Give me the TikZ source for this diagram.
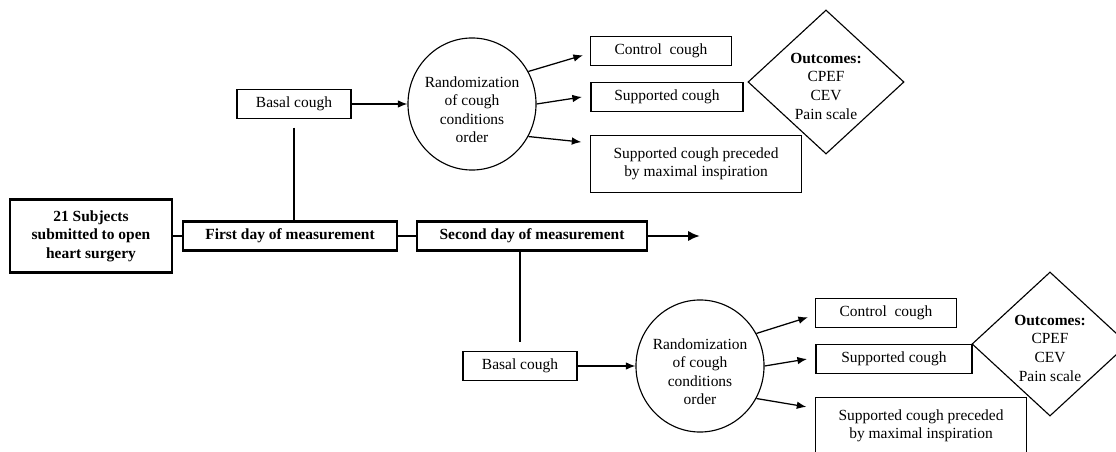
\documentclass[tikz,border=0pt]{standalone}
\usepackage{fontspec}
\setmainfont{Liberation Serif}
\usepackage{tikz}
\usetikzlibrary{arrows.meta,positioning,calc,shapes.geometric}

\begin{document}
\begin{tikzpicture}[x=0.025cm,y=-0.025cm,
    font=\fontsize{11}{13.2}\selectfont,
    block/.style={rectangle,draw,line width=0.8pt,minimum height=0.73cm,inner sep=2pt,align=center},
    dayblock/.style={rectangle,draw,line width=2pt,minimum height=0.72cm,inner sep=2pt,align=center,font=\fontsize{11}{13.2}\selectfont\bfseries},
    randnode/.style={ellipse,draw,line width=0.8pt,minimum width=3.2cm,minimum height=3.3cm,inner sep=0pt},
    outbox/.style={diamond,draw,line width=0.8pt,minimum width=3.9cm,minimum height=3.6cm,inner sep=0pt},
    arrow/.style={-{Latex[length=2.4mm,width=1.9mm]},line width=0.9pt},
    mainarrow/.style={-{Latex[length=3mm,width=2.6mm]},line width=2pt},
    link/.style={line width=2pt}
]
\useasboundingbox (0,0) rectangle (1116,452);
\clip (0,0) rectangle (1116,452);

% time line
\node[dayblock,minimum width=4.05cm,minimum height=1.82cm] (subj) at (91,236) {21 Subjects\\submitted to open\\heart surgery};
\node[dayblock,minimum width=5.35cm] (day1) at (290,236) {First day of measurement};
\node[dayblock,minimum width=5.75cm] (day2) at (532,236) {Second day of measurement};
\coordinate (tend) at (700,236);
\draw[link] (subj) -- (day1);
\draw[link] (day1) -- (day2);
\draw[mainarrow] (day2) -- (tend);

% first day
\node[block,minimum width=2.85cm] (basal1) at (294,104) {Basal cough};
\node[randnode,label={[align=center,yshift=-4pt]center:{Randomization\\of cough\\conditions\\order}}] (rand1) at (472,104) {};
\node[block,minimum width=3.52cm] (ctrl1) at (661,51) {Control\ \ cough};
\node[block,minimum width=3.8cm] (sup1) at (667,97) {Supported cough};
\node[block,minimum width=5.28cm,minimum height=1.42cm] (pre1) at (696,164) {Supported cough preceded\\by maximal inspiration};
\node[outbox,label={[align=center,yshift=-3pt]center:{\textbf{Outcomes:}\\CPEF\\CEV\\Pain scale}}] (out1) at (826,82) {};

\draw[line width=0.8pt,shorten <=6pt] (basal1.south) -- (basal1.south |- day1.north);
\draw[arrow] (basal1) -- (rand1);
\draw[arrow] (rand1.30) -- ([xshift=-5pt,yshift=-3pt]ctrl1.west);
\draw[arrow] (rand1.east) -- ([xshift=-6pt]sup1.west);
\draw[arrow] (rand1.-30) -- ([xshift=-6pt,yshift=-5pt]pre1.north west);

% second day
\node[block,minimum width=2.85cm] (basal2) at (520,366) {Basal cough};
\node[randnode,label={[align=center,yshift=-4pt]center:{Randomization\\of cough\\conditions\\order}}] (rand2) at (700,366) {};
\node[block,minimum width=3.52cm] (ctrl2) at (886,313) {Control\ \ cough};
\node[block,minimum width=3.9cm] (sup2) at (894,359) {Supported cough};
\node[block,minimum width=5.28cm,minimum height=1.42cm] (pre2) at (921,426) {Supported cough preceded\\by maximal inspiration};
\node[outbox,label={[align=center,yshift=-3pt]center:{\textbf{Outcomes:}\\CPEF\\CEV\\Pain scale}}] (out2) at (1050,344) {};

\draw[line width=0.8pt,shorten >=6pt] (basal2.north |- day2.south) -- (basal2.north);
\draw[arrow] (basal2) -- (rand2);
\draw[arrow] (rand2.30) -- ([xshift=-5pt,yshift=-3pt]ctrl2.west);
\draw[arrow] (rand2.east) -- ([xshift=-6pt]sup2.west);
\draw[arrow] (rand2.-30) -- ([xshift=-6pt,yshift=-7pt]pre2.north west);
\end{tikzpicture}
\end{document}
